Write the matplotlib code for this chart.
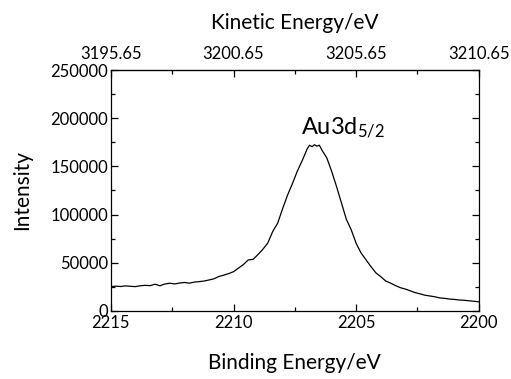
import matplotlib
matplotlib.use("Agg")
import matplotlib.pyplot as plt
from matplotlib.ticker import MultipleLocator, FixedLocator, FormatStrFormatter

plt.rcParams['font.family'] = ['Lato', 'DejaVu Sans']
plt.rcParams['mathtext.default'] = 'regular'

binding_energy = [
    2215.0, 2214.8, 2214.6, 2214.4, 2214.2, 2214.0, 2213.8, 2213.6, 2213.4, 2213.2,
    2213.0, 2212.8, 2212.6, 2212.4, 2212.2, 2212.0, 2211.8, 2211.6, 2211.4, 2211.2,
    2211.0, 2210.8, 2210.6, 2210.4, 2210.2, 2210.0, 2209.8, 2209.6, 2209.4, 2209.2,
    2209.0, 2208.8, 2208.6, 2208.4, 2208.2, 2208.0, 2207.8, 2207.6, 2207.4, 2207.2,
    2207.0, 2206.9, 2206.8, 2206.7, 2206.6, 2206.5, 2206.4, 2206.2, 2206.0, 2205.8,
    2205.6, 2205.4, 2205.2, 2205.0, 2204.8, 2204.6, 2204.4, 2204.2, 2204.0, 2203.8,
    2203.6, 2203.4, 2203.2, 2203.0, 2202.8, 2202.6, 2202.4, 2202.2, 2202.0, 2201.8,
    2201.6, 2201.4, 2201.2, 2201.0, 2200.8, 2200.6, 2200.4, 2200.2, 2200.0,
]
intensity = [
    25000, 25600, 25200, 25900, 25400, 25100, 26000, 26400, 26100, 27600,
    26000, 27800, 28600, 27900, 28800, 29400, 28700, 29800, 30300, 30900,
    32000, 33200, 35600, 37000, 38600, 40600, 44300, 48000, 52800, 53500,
    58500, 64000, 70500, 82500, 91000, 106000, 120000, 132000, 145000, 156000,
    168000, 172000, 170500, 172500, 171000, 172000, 167000, 159000, 145000, 129000,
    112000, 95000, 84000, 70000, 60000, 53000, 46000, 39500, 35500, 31000,
    28800, 26200, 24000, 22600, 20800, 18900, 17600, 16200, 15400, 14600,
    13400, 12900, 12200, 11800, 11200, 10900, 10400, 9900, 9300,
]
kinetic_ticks = [3195.65, 3200.65, 3205.65, 3210.65]
energy_sum = 5410.65

fig = plt.figure(figsize=(5.11, 3.79), dpi=100)
ax = fig.add_axes([0.217, 0.180, 0.720, 0.635])
ax.plot(binding_energy, intensity, color='black', lw=0.9)
ax.set_xlim(2215, 2200)
ax.set_ylim(0, 250000)
ax.xaxis.set_major_locator(MultipleLocator(5))
ax.xaxis.set_minor_locator(MultipleLocator(2.5))
ax.yaxis.set_major_locator(MultipleLocator(50000))
ax.yaxis.set_minor_locator(MultipleLocator(25000))
ax.tick_params(which='both', direction='in', right=True, labelsize=12, width=0.9)
ax.tick_params(which='major', length=5, pad=3)
ax.tick_params(which='minor', length=3)
ax.tick_params(axis='y', pad=2)
for s in ax.spines.values():
    s.set_linewidth(0.9)

sec = ax.secondary_xaxis('top', functions=(lambda x: energy_sum - x, lambda k: energy_sum - k))
sec.xaxis.set_major_locator(FixedLocator(kinetic_ticks))
sec.xaxis.set_minor_locator(FixedLocator([k + 2.5 for k in kinetic_ticks[:-1]]))
sec.xaxis.set_major_formatter(FormatStrFormatter('%.2f'))
sec.tick_params(which='both', direction='in', labelsize=12, width=0.9)
sec.tick_params(which='major', length=5, pad=6)
sec.tick_params(which='minor', length=3)
sec.set_xlabel('Kinetic Energy/eV', fontsize=15, labelpad=12)

ax.set_xlabel('Binding Energy/eV', fontsize=15, labelpad=16)
ax.set_ylabel('Intensity', fontsize=15, labelpad=13)

ax.text(2207.25, 184000, 'Au3d$_{5/2}$', fontsize=17, ha='left', va='baseline')

fig.savefig('out.png', dpi=100)
